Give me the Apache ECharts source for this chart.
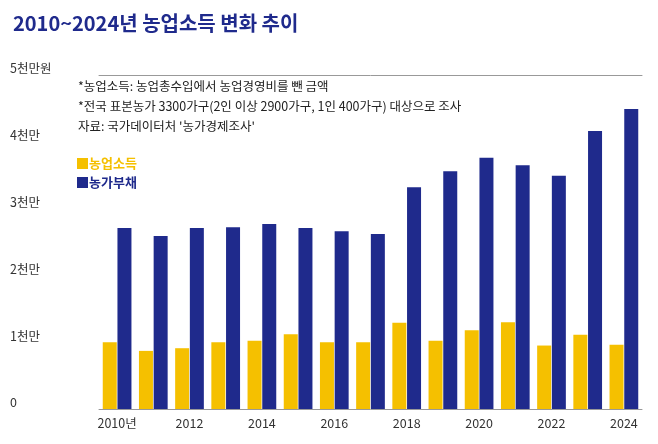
<!DOCTYPE html>
<html><head><meta charset="utf-8">
<script src="https://cdn.jsdelivr.net/npm/echarts@6/dist/echarts.min.js"></script>
<style>body{margin:0;background:#fff}#c{width:658px;height:444px}</style>
</head><body><div id="c"></div>
<script>
const years = ["2010년","2011","2012","2013","2014","2015","2016","2017","2018","2019","2020","2021","2022","2023","2024"];
// 단위: 천만원
const income = [1.00,0.87,0.91,1.00,1.02,1.12,1.00,1.00,1.29,1.02,1.18,1.30,0.95,1.11,0.96];
const debt = [2.71,2.59,2.71,2.72,2.77,2.71,2.66,2.62,3.32,3.56,3.76,3.65,3.49,4.16,4.49];
const yTicks = ["0","1천만","2천만","3천만","4천만","5천만원"];
const notes = [
  "*농업소득: 농업총수입에서 농업경영비를 뺀 금액",
  "*전국 표본농가 3300가구(2인 이상 2900가구, 1인 400가구) 대상으로 조사",
  "자료: 국가데이터처 '농가경제조사'"
];
const font = "'Noto Sans CJK KR', sans-serif";

const chart = echarts.init(document.getElementById("c"));
chart.setOption({
  animation: false,
  textStyle: { fontFamily: font },
  title: {
    text: "2010~2024년 농업소득 변화 추이",
    left: 8, top: 8,
    textStyle: { fontSize: 20, fontWeight: "bold", color: "#1F2A8C", fontFamily: font }
  },
  graphic: notes.map((t, i) => ({
    type: "text", left: 78, top: 80 + i * 20,
    style: { text: t, fontSize: 12.5, fill: "#222", fontFamily: font }
  })),
  legend: {
    orient: "vertical", left: 72, top: 152, itemGap: 6,
    itemWidth: 11, itemHeight: 11, icon: "rect",
    textStyle: { fontSize: 13, fontWeight: "bold", fontFamily: font, padding: [0, 0, 0, -4] },
    data: [
      { name: "농업소득", textStyle: { color: "#F5C000" } },
      { name: "농가부채", textStyle: { color: "#1F2A8C" } }
    ]
  },
  grid: { left: 99, right: 16, top: 75, bottom: 35 },
  xAxis: [
    {
      type: "category", data: years,
      axisLine: { lineStyle: { color: "#999" } }, axisTick: { show: false },
      axisLabel: { color: "#333", fontSize: 12.5, margin: 8 }
    },
    {
      type: "category", data: years, position: "top",
      axisLine: { lineStyle: { color: "#999" } }, axisTick: { show: false },
      axisLabel: { show: false }
    }
  ],
  yAxis: {
    type: "value", min: 0, max: 5, interval: 1,
    splitLine: { show: false }, axisLine: { show: false }, axisTick: { show: false },
    axisLabel: {
      align: "left", margin: 89, color: "#333", fontSize: 12.5,
      verticalAlign: "bottom",
      formatter: v => yTicks[Math.round(v)]
    }
  },
  series: [
    { name: "농업소득", type: "bar", data: income, barWidth: 14, barGap: "5%", itemStyle: { color: "#F5C000" } },
    { name: "농가부채", type: "bar", data: debt, barWidth: 14, barGap: "5%", itemStyle: { color: "#1F2A8C" } }
  ]
});
</script></body></html>
